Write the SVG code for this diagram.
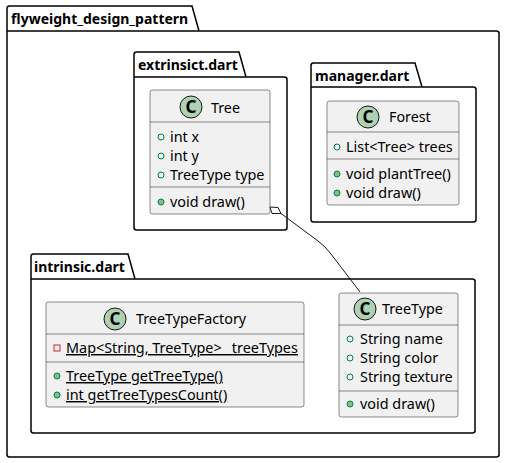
<svg xmlns="http://www.w3.org/2000/svg" width="505" height="463" viewBox="0 0 505 463">
<style>
.pkg{fill:none;stroke:#000;stroke-width:1.5}
.pkgname{font-family:"Noto Sans",sans-serif;font-size:14px;font-weight:bold;fill:#000}
.cls{fill:#F1F1F1;stroke:#181818;stroke-width:0.5}
.sep{stroke:#181818;stroke-width:0.5}
.circ{fill:#ADD1B2;stroke:#181818;stroke-width:1}
.cl{font-family:"Noto Sans",sans-serif;font-size:17px;font-weight:bold;fill:#000;text-anchor:middle}
.name{font-family:"Noto Sans",sans-serif;font-size:14.3px;fill:#000}
.mem{font-family:"Noto Sans",sans-serif;font-size:14.4px;fill:#000}
.pubf{fill:none;stroke:#038048;stroke-width:1}
.pubm{fill:#84BE84;stroke:#038048;stroke-width:1}
.priv{fill:none;stroke:#C82930;stroke-width:1}
.conn{fill:none;stroke:#181818;stroke-width:1}
</style>
<rect width="505" height="463" fill="#fff"/>
<g id="pkg-flyweight">
<path class="pkg" d="M9.5,6 H192 L199,31 H496.5 Q499,31 499,33.5 V454.5 Q499,457 496.5,457 H9.5 Q7,457 7,454.5 V8.5 Q7,6 9.5,6 Z M7,31 H199"/>
<text class="pkgname" x="11" y="24">flyweight_design_pattern</text>
</g>
<g id="pkg-extrinsict">
<path class="pkg" d="M136.5,52 H239 L246,77 H284.5 Q287,77 287,79.5 V227.5 Q287,230 284.5,230 H136.5 Q134,230 134,227.5 V54.5 Q134,52 136.5,52 Z M134,77 H246"/>
<text class="pkgname" x="138" y="70">extrinsict.dart</text>
</g>
<g id="pkg-manager">
<path class="pkg" d="M313.5,63 H415 L422,87 H473.5 Q476,87 476,89.5 V219.5 Q476,222 473.5,222 H313.5 Q311,222 311,219.5 V65.5 Q311,63 313.5,63 Z M311,87 H422"/>
<text class="pkgname" x="315" y="81">manager.dart</text>
</g>
<g id="pkg-intrinsic">
<path class="pkg" d="M33.5,254 H128 L135,279 H472.5 Q475,279 475,281.5 V430.5 Q475,433 472.5,433 H33.5 Q31,433 31,430.5 V256.5 Q31,254 33.5,254 Z M31,279 H135"/>
<text class="pkgname" x="34" y="272">intrinsic.dart</text>
</g>
<g id="Tree">
<rect class="cls" x="150" y="90" width="120" height="124" rx="2.5"/>
<circle class="circ" cx="191" cy="107" r="11"/>
<text class="cl" x="191" y="113">C</text>
<text class="name" x="211" y="113">Tree</text>
<line class="sep" x1="150" y1="122" x2="270" y2="122"/>
<circle class="pubf" cx="161" cy="137" r="3"/>
<text class="mem" x="170" y="142">int x</text>
<circle class="pubf" cx="161" cy="156" r="3"/>
<text class="mem" x="170" y="161">int y</text>
<circle class="pubf" cx="161" cy="175" r="3"/>
<text class="mem" x="170" y="180">TreeType type</text>
<line class="sep" x1="150" y1="187" x2="270" y2="187"/>
<circle class="pubm" cx="161" cy="202" r="3"/>
<text class="mem" x="170" y="207">void draw()</text>
</g>
<g id="Forest">
<rect class="cls" x="327" y="101" width="132" height="104" rx="2.5"/>
<circle class="circ" cx="368" cy="117" r="11"/>
<text class="cl" x="368" y="123">C</text>
<text class="name" x="389" y="122">Forest</text>
<line class="sep" x1="327" y1="132" x2="459" y2="132"/>
<circle class="pubf" cx="337" cy="147" r="3"/>
<text class="mem" x="346" y="152">List&lt;Tree&gt; trees</text>
<line class="sep" x1="327" y1="159" x2="459" y2="159"/>
<circle class="pubm" cx="337" cy="174" r="3"/>
<text class="mem" x="346" y="179">void plantTree()</text>
<circle class="pubm" cx="337" cy="193" r="3"/>
<text class="mem" x="346" y="198">void draw()</text>
</g>
<g id="TreeTypeFactory">
<rect class="cls" x="46" y="302" width="258" height="105" rx="2.5"/>
<circle class="circ" cx="115" cy="319" r="11"/>
<text class="cl" x="115" y="325">C</text>
<text class="name" x="136" y="324">TreeTypeFactory</text>
<line class="sep" x1="46" y1="334" x2="304" y2="334"/>
<rect class="priv" x="54" y="345" width="6" height="6"/>
<text class="mem" x="66" y="353" text-decoration="underline">Map&lt;String, TreeType&gt; _treeTypes</text>
<line class="sep" x1="46" y1="362" x2="304" y2="362"/>
<circle class="pubm" cx="57" cy="376" r="3"/>
<text class="mem" x="66" y="381" text-decoration="underline">TreeType getTreeType()</text>
<circle class="pubm" cx="57" cy="395" r="3"/>
<text class="mem" x="66" y="400" text-decoration="underline">int getTreeTypesCount()</text>
</g>
<g id="TreeType">
<rect class="cls" x="339" y="293" width="119" height="124" rx="2.5"/>
<circle class="circ" cx="365" cy="309" r="11"/>
<text class="cl" x="365" y="315">C</text>
<text class="name" x="382" y="314">TreeType</text>
<line class="sep" x1="339" y1="325" x2="458" y2="325"/>
<circle class="pubf" cx="350" cy="339" r="3"/>
<text class="mem" x="360" y="344">String name</text>
<circle class="pubf" cx="350" cy="358" r="3"/>
<text class="mem" x="360" y="363">String color</text>
<circle class="pubf" cx="350" cy="377" r="3"/>
<text class="mem" x="360" y="382">String texture</text>
<line class="sep" x1="339" y1="391" x2="458" y2="391"/>
<circle class="pubm" cx="350" cy="404" r="3"/>
<text class="mem" x="360" y="409">void draw()</text>
</g>
<g id="connectors">
<path class="conn" d="M281,213.5 L318,241 Q325,246 331,254 L360,292"/>
<polygon points="270,207 278,207.5 281,213.5 272,213.5" fill="#fff" stroke="#181818" stroke-width="1"/>
</g>
</svg>
